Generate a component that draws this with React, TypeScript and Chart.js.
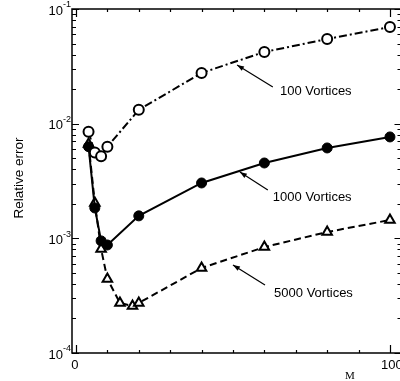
import { useEffect, useRef } from "react";
import { Chart, registerables } from "chart.js";

Chart.register(...registerables);

// ---- data ----
const seriesLabels = ["100 Vortices", "1000 Vortices", "5000 Vortices"];
const m100 = [4, 6, 8, 10, 20, 40, 60, 80, 100];
const err100 = [0.0085, 0.0056, 0.0052, 0.0063, 0.0132, 0.0277, 0.0422, 0.0547, 0.0697];
const m1000 = [4, 6, 8, 10, 20, 40, 60, 80, 100];
const err1000 = [0.0063, 0.00184, 0.00095, 0.000875, 0.00157, 0.00304, 0.00454, 0.00614, 0.00766];
const m5000 = [4, 6, 8, 10, 14, 18, 20, 40, 60, 80, 100];
const err5000 = [0.00665, 0.00203, 0.000807, 0.000442, 0.000273, 0.000257, 0.000273, 0.000551, 0.000839, 0.001135, 0.001445];

const xMajorTicks = [0, 100];
const xMajorLabels = ["0", "100"];
const xMinorTicks = [10, 20, 30, 40, 50, 60, 70, 80, 90];
const yDecades = [1e-4, 1e-3, 1e-2, 1e-1];
const yExponents = ["-4", "-3", "-2", "-1"];
const yMinorMultipliers = [2, 3, 4, 5, 6, 7, 8, 9];
const xTitle = "M";
const yTitle = "Relative error";

// annotations in data coordinates: arrow head, arrow tail, text anchor (left, middle)
const annotations = [
  { text: "100 Vortices", hx: 51.3, hy: 0.0325, tx: 62.7, ty: 0.0209, lx: 65.0, ly: 0.0193 },
  { text: "1000 Vortices", hx: 52.2, hy: 0.00379, tx: 61.1, ty: 0.00264, lx: 62.7, ly: 0.00229 },
  { text: "5000 Vortices", hx: 50.0, hy: 0.000586, tx: 60.2, ty: 0.000392, lx: 63.1, ly: 0.000333 },
];

const SANS = '"Liberation Sans", Arial, sans-serif';

const axesPlugin = {
  id: "paperAxes",
  afterDraw(chart: any) {
    const ctx = chart.ctx as CanvasRenderingContext2D;
    const { left, right, top, bottom } = chart.chartArea;
    const xs = chart.scales.x;
    const ys = chart.scales.y;
    const rightLine = right + 1.5;
    ctx.save();
    ctx.strokeStyle = "#000";
    ctx.fillStyle = "#000";
    ctx.lineWidth = 1.5;
    // frame
    ctx.beginPath();
    ctx.moveTo(rightLine, top);
    ctx.lineTo(left, top);
    ctx.lineTo(left, bottom);
    ctx.lineTo(rightLine, bottom);
    ctx.stroke();

    ctx.lineWidth = 1.2;
    // y ticks
    const yTick = (v: number, len: number) => {
      const p = Math.round(ys.getPixelForValue(v)) + 0.5;
      ctx.beginPath();
      ctx.moveTo(left, p);
      ctx.lineTo(left + len, p);
      ctx.moveTo(rightLine, p);
      ctx.lineTo(rightLine - len, p);
      ctx.stroke();
    };
    yDecades.forEach((d, i) => {
      yTick(d, 7);
      if (i < yDecades.length - 1) yMinorMultipliers.forEach((k) => yTick(d * k, 4));
    });
    // x ticks
    const xTick = (v: number, len: number) => {
      const p = Math.round(xs.getPixelForValue(v)) + 0.5;
      ctx.beginPath();
      ctx.moveTo(p, bottom);
      ctx.lineTo(p, bottom - len);
      ctx.moveTo(p, top);
      ctx.lineTo(p, top + len);
      ctx.stroke();
    };
    xMajorTicks.forEach((v) => xTick(v, 8));
    xMinorTicks.forEach((v) => xTick(v, 3));

    // y labels
    yDecades.forEach((d, i) => {
      const p = ys.getPixelForValue(d);
      ctx.font = `13px ${SANS}`;
      ctx.textAlign = "right";
      ctx.textBaseline = "middle";
      ctx.fillText("10", left - 9, p + 2);
      ctx.font = `9px ${SANS}`;
      ctx.textAlign = "left";
      ctx.fillText(yExponents[i], left - 9, p - 4);
    });
    // x labels
    ctx.font = `13px ${SANS}`;
    ctx.textAlign = "center";
    ctx.textBaseline = "middle";
    xMajorTicks.forEach((v, i) => {
      ctx.fillText(xMajorLabels[i], xs.getPixelForValue(v) + (i === 1 ? 2 : -1), bottom + 12);
    });
    // axis titles
    ctx.font = `11px "Liberation Serif", serif`;
    ctx.fillText(xTitle, 350, 376);
    ctx.save();
    ctx.translate(19, 178);
    ctx.rotate(-Math.PI / 2);
    ctx.font = `13.5px ${SANS}`;
    ctx.fillText(yTitle, 0, 0);
    ctx.restore();

    // annotations
    annotations.forEach((a) => {
      const hx = xs.getPixelForValue(a.hx);
      const hy = ys.getPixelForValue(a.hy);
      const tx = xs.getPixelForValue(a.tx);
      const ty = ys.getPixelForValue(a.ty);
      ctx.lineWidth = 1.2;
      ctx.beginPath();
      ctx.moveTo(tx, ty);
      ctx.lineTo(hx, hy);
      ctx.stroke();
      const ang = Math.atan2(hy - ty, hx - tx);
      const L = 7, W = 2.5;
      ctx.beginPath();
      ctx.moveTo(hx, hy);
      ctx.lineTo(hx - L * Math.cos(ang) + W * Math.sin(ang), hy - L * Math.sin(ang) - W * Math.cos(ang));
      ctx.lineTo(hx - L * Math.cos(ang) - W * Math.sin(ang), hy - L * Math.sin(ang) + W * Math.cos(ang));
      ctx.closePath();
      ctx.fill();
      ctx.font = `13px ${SANS}`;
      ctx.textAlign = "left";
      ctx.textBaseline = "middle";
      ctx.fillText(a.text, xs.getPixelForValue(a.lx), ys.getPixelForValue(a.ly));
    });
    ctx.restore();
  },
};

export default function App() {
  const ref = useRef<HTMLCanvasElement | null>(null);
  useEffect(() => {
    if (!ref.current) return;
    const toPts = (xs: number[], ys: number[]) => xs.map((x, i) => ({ x, y: ys[i] }));
    const chart = new Chart(ref.current, {
      type: "line",
      data: {
        datasets: [
          {
            label: seriesLabels[0],
            data: toPts(m100, err100),
            borderColor: "#000",
            borderWidth: 2,
            borderDash: [8, 3, 2, 3],
            pointStyle: "circle",
            pointRadius: 5,
            pointBorderWidth: 2,
            pointBackgroundColor: "#fff",
            pointBorderColor: "#000",
            fill: false,
          },
          {
            label: seriesLabels[1],
            data: toPts(m1000, err1000),
            borderColor: "#000",
            borderWidth: 2,
            pointStyle: "circle",
            pointRadius: 5,
            pointBorderWidth: 1,
            pointBackgroundColor: "#000",
            pointBorderColor: "#000",
            fill: false,
          },
          {
            label: seriesLabels[2],
            data: toPts(m5000, err5000),
            borderColor: "#000",
            borderWidth: 2,
            borderDash: [7, 4],
            pointStyle: "triangle",
            pointRadius: 5.5,
            pointBorderWidth: 2,
            pointBackgroundColor: "#fff",
            pointBorderColor: "#000",
            fill: false,
          },
        ],
      },
      options: {
        animation: false,
        responsive: false,
        devicePixelRatio: 1,
        layout: { autoPadding: false, padding: { left: 72, top: 9, right: 0, bottom: 28 } },
        plugins: { legend: { display: false }, tooltip: { enabled: false } },
        scales: {
          x: { type: "linear", min: -1.27, max: 103.2, display: false },
          y: { type: "logarithmic", min: 1e-4, max: 1e-1, display: false },
        },
      },
      plugins: [axesPlugin],
    });
    return () => chart.destroy();
  }, []);
  return (
    <div style={{ position: "absolute", left: 0, top: 0, width: 400, height: 381, background: "#fff" }}>
      <canvas ref={ref} width={400} height={381} style={{ display: "block" }} />
    </div>
  );
}
